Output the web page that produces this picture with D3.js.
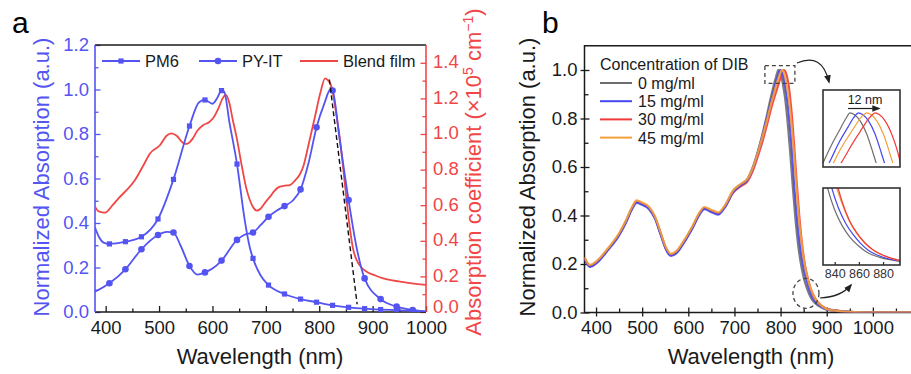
<!DOCTYPE html>
<html>
<head>
<meta charset="utf-8">
<script src="https://cdn.jsdelivr.net/npm/d3@7"></script>
<style>
  html, body { margin: 0; padding: 0; background: #fff; }
  svg { font-family: "Liberation Sans", Arial, Helvetica, sans-serif; display: block; }
</style>
</head>
<body>
<svg id="chart" width="911" height="374"></svg>
<script>
// ---------------- Panel a: PM6, PY-IT and blend film ----------------
// wavelengths (nm) where PM6 / PY-IT carry symbols
const markerWl = [407, 437, 467, 498, 527, 557, 586, 617, 646, 676, 705, 735, 765, 795, 825, 855, 885, 915, 945, 975];
const pm6AtMarkers = [0.306, 0.316, 0.338, 0.418, 0.596, 0.836, 0.953, 0.995, 0.665, 0.241, 0.121, 0.081, 0.058, 0.044, 0.030, 0.021, 0.015, 0.011, 0.008, 0.005];
const pm6Between = [[380, 0.38], [388, 0.335], [396, 0.312], [575, 0.943], [600, 0.936], [609, 0.962], [622, 0.99], [632, 0.85], [660, 0.42], [670, 0.29], [690, 0.165], [1000, 0.003]];
const pyitAtMarkers = [0.129, 0.192, 0.282, 0.346, 0.357, 0.207, 0.178, 0.231, 0.324, 0.357, 0.428, 0.476, 0.551, 0.830, 0.995, 0.503, 0.151, 0.058, 0.024, 0.009];
const pyitBetween = [[380, 0.091], [515, 0.36], [540, 0.30], [572, 0.168], [600, 0.195], [660, 0.347], [690, 0.39], [720, 0.455], [750, 0.50], [780, 0.67], [810, 0.94], [821, 1.0], [838, 0.78], [870, 0.29], [1000, 0.002]];
// blend film absorption coefficient (x10^5 cm^-1)
const blendFilm = [[380, 0.592], [387, 0.565], [399, 0.558], [413, 0.60], [427, 0.648], [441, 0.69], [455, 0.742], [470, 0.82], [483, 0.891], [502, 0.938], [514, 0.99], [523, 1.004], [533, 0.99], [545, 0.95], [552, 0.944], [562, 0.97], [572, 1.02], [583, 1.051], [593, 1.065], [601, 1.088], [612, 1.15], [619, 1.20], [625, 1.219], [632, 1.17], [638, 1.08], [645, 0.985], [655, 0.82], [663, 0.70], [670, 0.629], [677, 0.585], [683, 0.569], [690, 0.58], [700, 0.62], [708, 0.648], [716, 0.68], [726, 0.704], [736, 0.71], [745, 0.713], [755, 0.74], [763, 0.77], [770, 0.816], [780, 0.94], [792, 1.097], [802, 1.23], [811, 1.313], [817, 1.30], [823, 1.266], [831, 1.13], [839, 0.966], [848, 0.72], [857, 0.479], [863, 0.36], [870, 0.292], [879, 0.25], [889, 0.226], [905, 0.205], [920, 0.189], [940, 0.176], [964, 0.165], [985, 0.157], [1000, 0.152]];
// tangent to the absorption edge (normalized units)
const edgeTangent = [[819, 1.045], [871, 0.035]];

const aXTicks = [400, 500, 600, 700, 800, 900, 1000];
const aYLeftTicks = [0, 0.2, 0.4, 0.6, 0.8, 1.0, 1.2];
const aYRightTicks = [0, 0.2, 0.4, 0.6, 0.8, 1.0, 1.2, 1.4];

// ---------------- Panel b: DIB concentration series ----------------
const dibLabels = ["0 mg/ml", "15 mg/ml", "30 mg/ml", "45 mg/ml"];
const dib0 = [[375, 0.225], [380, 0.205], [387, 0.191], [400, 0.205], [425, 0.258], [450, 0.322], [465, 0.375], [478, 0.43], [488, 0.457], [500, 0.448], [515, 0.43], [528, 0.39], [540, 0.325], [552, 0.262], [562, 0.237], [575, 0.25], [590, 0.29], [610, 0.355], [625, 0.41], [635, 0.43], [648, 0.42], [665, 0.408], [680, 0.44], [697, 0.50], [715, 0.53], [728, 0.55], [740, 0.60], [750, 0.66], [760, 0.73], [770, 0.81], [778, 0.88], [783, 0.92], [787, 0.95], [790, 0.97], [793, 0.99], [795, 1.0], [797, 0.997], [800, 0.985], [803, 0.963], [806, 0.93], [810, 0.88], [815, 0.79], [820, 0.68], [826, 0.53], [833, 0.37], [840, 0.25], [846, 0.18], [852, 0.13], [860, 0.085], [866, 0.06], [872, 0.044], [880, 0.03], [890, 0.02], [900, 0.012], [950, 0.003], [1000, 0.001], [1100, 0]];
const dib15 = [[375, 0.222], [380, 0.202], [387, 0.188], [400, 0.202], [425, 0.255], [450, 0.318], [465, 0.371], [478, 0.426], [488, 0.452], [500, 0.444], [515, 0.426], [528, 0.386], [540, 0.321], [552, 0.258], [562, 0.233], [575, 0.246], [590, 0.286], [610, 0.351], [625, 0.406], [635, 0.426], [648, 0.416], [665, 0.404], [680, 0.436], [697, 0.496], [715, 0.527], [728, 0.547], [740, 0.596], [750, 0.655], [760, 0.725], [770, 0.80], [780, 0.875], [786, 0.92], [790, 0.95], [794, 0.975], [797, 0.993], [799, 1.0], [801, 0.997], [804, 0.985], [807, 0.963], [810, 0.93], [814, 0.88], [819, 0.79], [824, 0.68], [829, 0.54], [836, 0.38], [843, 0.26], [849, 0.19], [855, 0.14], [862, 0.095], [868, 0.066], [874, 0.048], [882, 0.032], [890, 0.022], [900, 0.013], [950, 0.003], [1000, 0.001], [1100, 0]];
const dib30 = [[375, 0.226], [380, 0.206], [387, 0.192], [400, 0.206], [425, 0.259], [450, 0.323], [465, 0.376], [478, 0.431], [488, 0.458], [500, 0.449], [515, 0.431], [528, 0.391], [540, 0.326], [552, 0.263], [562, 0.238], [575, 0.251], [590, 0.291], [610, 0.356], [625, 0.411], [635, 0.431], [648, 0.421], [665, 0.409], [680, 0.438], [697, 0.494], [715, 0.522], [728, 0.54], [740, 0.585], [750, 0.64], [760, 0.70], [770, 0.77], [780, 0.845], [787, 0.89], [792, 0.92], [796, 0.945], [800, 0.968], [803, 0.985], [805, 0.994], [807, 1.0], [809, 0.997], [812, 0.985], [815, 0.963], [818, 0.93], [821, 0.88], [825, 0.80], [829, 0.70], [834, 0.56], [840, 0.41], [846, 0.29], [852, 0.205], [858, 0.148], [865, 0.10], [871, 0.072], [877, 0.052], [884, 0.036], [892, 0.024], [900, 0.015], [950, 0.003], [1000, 0.001], [1100, 0]];
const dib45 = [[375, 0.229], [380, 0.209], [387, 0.196], [400, 0.21], [425, 0.263], [450, 0.327], [465, 0.38], [478, 0.435], [488, 0.462], [500, 0.453], [515, 0.435], [528, 0.395], [540, 0.33], [552, 0.267], [562, 0.242], [575, 0.255], [590, 0.295], [610, 0.36], [625, 0.415], [635, 0.435], [648, 0.425], [665, 0.413], [680, 0.444], [697, 0.503], [715, 0.532], [728, 0.551], [740, 0.598], [750, 0.655], [760, 0.72], [770, 0.79], [780, 0.865], [786, 0.905], [791, 0.94], [795, 0.963], [798, 0.98], [801, 0.995], [803, 1.0], [805, 0.997], [808, 0.985], [811, 0.963], [814, 0.93], [818, 0.88], [823, 0.79], [828, 0.68], [833, 0.55], [839, 0.40], [846, 0.28], [852, 0.20], [858, 0.145], [865, 0.10], [871, 0.071], [877, 0.051], [884, 0.035], [892, 0.023], [900, 0.014], [950, 0.003], [1000, 0.001], [1100, 0]];

const bXTicks = [400, 500, 600, 700, 800, 900, 1000];
const bYTicks = [0, 0.2, 0.4, 0.6, 0.8, 1.0];
const insetTicks = [840, 860, 880];

// ---------------- drawing ----------------
const BLUE = "#5454f2", RED = "#f04646", INK = "#1a1a1a";
const dibColors = ["#6e6e6e", "#4646f0", "#f23a3a", "#f2a03c"];

const svg = d3.select("#chart");
const defs = svg.append("defs");

function clip(id, x, y, w, h) {
  defs.append("clipPath").attr("id", id).append("rect")
    .attr("x", x).attr("y", y).attr("width", w).attr("height", h);
  return `url(#${id})`;
}

function styleAxis(g, color, fontSize) {
  g.select(".domain").remove();
  g.selectAll("line").attr("stroke", color).attr("stroke-width", 1.3);
  g.selectAll("text").attr("fill", color).style("font-size", fontSize + "px")
    .style("font-family", '"Liberation Sans", Arial, sans-serif');
}

function minorValues(lo, hi, step) {
  const out = [];
  for (let v = lo; v <= hi + 1e-9; v += step) out.push(+v.toFixed(4));
  return out;
}

// ===== panel a =====
const aX = d3.scaleLinear().domain([380, 1000]).range([95, 426]);
const aYL = d3.scaleLinear().domain([0, 1.2]).range([312, 45]);
const aYR = d3.scaleLinear().domain([0, 1.5]).range([312, 45]);
const ga = svg.append("g");

// axes
ga.append("g").attr("transform", "translate(0,312)")
  .call(d3.axisBottom(aX).tickValues(aXTicks).tickSize(-6).tickSizeOuter(0).tickPadding(9).tickFormat(d3.format("d")))
  .call(g => styleAxis(g, INK, 18.5));
ga.append("g").attr("transform", "translate(0,312)")
  .call(d3.axisBottom(aX).tickValues(minorValues(450, 950, 100)).tickSize(-3.5).tickFormat(""))
  .call(g => styleAxis(g, INK, 18.5));
ga.append("g").attr("transform", "translate(95,0)")
  .call(d3.axisLeft(aYL).tickValues(aYLeftTicks).tickSize(-5.5).tickSizeOuter(0).tickPadding(6).tickFormat(d3.format(".1f")))
  .call(g => styleAxis(g, BLUE, 18.5));
ga.append("g").attr("transform", "translate(95,0)")
  .call(d3.axisLeft(aYL).tickValues(minorValues(0.1, 1.1, 0.2)).tickSize(-3.5).tickFormat(""))
  .call(g => styleAxis(g, BLUE, 18.5));
ga.append("g").attr("transform", "translate(426,0)")
  .call(d3.axisRight(aYR).tickValues(aYRightTicks).tickSize(-5.5).tickSizeOuter(0).tickPadding(7).tickFormat(d3.format(".1f")))
  .call(g => styleAxis(g, RED, 18.5))
  .call(g => g.selectAll(".tick text").attr("y", d => (d === 0 ? -5 : -1)));
ga.append("g").attr("transform", "translate(426,0)")
  .call(d3.axisRight(aYR).tickValues(minorValues(0.1, 1.3, 0.2)).tickSize(-3.5).tickFormat(""))
  .call(g => styleAxis(g, RED, 18.5));

// frame
ga.append("line").attr("x1", 95).attr("x2", 426).attr("y1", 45).attr("y2", 45).attr("stroke", INK).attr("stroke-width", 1.5);
ga.append("line").attr("x1", 95).attr("x2", 426).attr("y1", 312).attr("y2", 312).attr("stroke", INK).attr("stroke-width", 1.5);
ga.append("line").attr("x1", 95).attr("x2", 95).attr("y1", 45).attr("y2", 312).attr("stroke", BLUE).attr("stroke-width", 1.6);
ga.append("line").attr("x1", 426).attr("x2", 426).attr("y1", 45).attr("y2", 312).attr("stroke", RED).attr("stroke-width", 1.6);

const clipA = clip("clipA", 95, 45, 331, 267);
const plotA = ga.append("g").attr("clip-path", clipA);

const lineL = d3.line().x(d => aX(d[0])).y(d => aYL(d[1])).curve(d3.curveMonotoneX);
const lineR = d3.line().x(d => aX(d[0])).y(d => aYR(d[1])).curve(d3.curveMonotoneX);

const pm6Markers = markerWl.map((w, i) => [w, pm6AtMarkers[i]]);
const pyitMarkers = markerWl.map((w, i) => [w, pyitAtMarkers[i]]);
const pm6 = d3.sort(pm6Markers.concat(pm6Between), d => d[0]);
const pyit = d3.sort(pyitMarkers.concat(pyitBetween), d => d[0]);

plotA.append("path").datum(blendFilm).attr("d", lineR)
  .attr("fill", "none").attr("stroke", RED).attr("stroke-width", 1.8);
plotA.append("path").datum(pm6).attr("d", lineL)
  .attr("fill", "none").attr("stroke", BLUE).attr("stroke-width", 1.8);
plotA.append("path").datum(pyit).attr("d", lineL)
  .attr("fill", "none").attr("stroke", BLUE).attr("stroke-width", 1.8);
plotA.selectAll("rect.pm6").data(pm6Markers).join("rect").attr("class", "pm6")
  .attr("x", d => aX(d[0]) - 2.6).attr("y", d => aYL(d[1]) - 2.6)
  .attr("width", 5.2).attr("height", 5.2).attr("fill", BLUE);
plotA.selectAll("circle.pyit").data(pyitMarkers).join("circle").attr("class", "pyit")
  .attr("cx", d => aX(d[0])).attr("cy", d => aYL(d[1])).attr("r", 3.3).attr("fill", BLUE);
plotA.append("path").datum(edgeTangent).attr("d", d3.line().x(d => aX(d[0])).y(d => aYL(d[1])))
  .attr("fill", "none").attr("stroke", "#111").attr("stroke-width", 1.4).attr("stroke-dasharray", "5,3");

// legend a
const legA = ga.append("g").style("font-size", "16.5px");
[
  { x: 102, label: "PM6", kind: "square", color: BLUE },
  { x: 199, label: "PY-IT", kind: "circle", color: BLUE },
  { x: 300, label: "Blend film", kind: "none", color: RED }
].forEach(it => {
  const y = 61;
  legA.append("line").attr("x1", it.x).attr("x2", it.x + 38).attr("y1", y).attr("y2", y)
    .attr("stroke", it.color).attr("stroke-width", 1.8);
  if (it.kind === "square") legA.append("rect").attr("x", it.x + 19 - 2.6).attr("y", y - 2.6).attr("width", 5.2).attr("height", 5.2).attr("fill", it.color);
  if (it.kind === "circle") legA.append("circle").attr("cx", it.x + 19).attr("cy", y).attr("r", 3.3).attr("fill", it.color);
  legA.append("text").attr("x", it.x + 43).attr("y", y + 6).attr("fill", INK).text(it.label);
});

// titles a
ga.append("text").attr("x", 12).attr("y", 33).style("font-size", "30px").attr("fill", "#000").text("a");
ga.append("text").attr("transform", "translate(49,177) rotate(-90)").attr("text-anchor", "middle")
  .style("font-size", "22px").attr("fill", BLUE).text("Normalized Absorption (a.u.)");
const rt = ga.append("text").attr("transform", "translate(481,172) rotate(-90)").attr("text-anchor", "middle")
  .style("font-size", "22px").attr("fill", RED);
rt.append("tspan").text("Absorption coefficient (\u00d710");
rt.append("tspan").attr("dy", -8).style("font-size", "14px").text("5");
rt.append("tspan").attr("dy", 8).text(" cm");
rt.append("tspan").attr("dy", -8).style("font-size", "14px").text("\u22121");
rt.append("tspan").attr("dy", 8).text(")");
ga.append("text").attr("x", 260).attr("y", 364).attr("text-anchor", "middle")
  .style("font-size", "22px").attr("fill", INK).text("Wavelength (nm)");

// ===== panel b =====
const bX = d3.scaleLinear().domain([375, 1100]).range([584.5, 919]);
const bY = d3.scaleLinear().domain([0, 1.1]).range([312.5, 45.75]);
const gb = svg.append("g");

gb.append("g").attr("transform", "translate(0,312.5)")
  .call(d3.axisBottom(bX).tickValues(bXTicks).tickSize(4).tickSizeOuter(0).tickPadding(4).tickFormat(d3.format("d")))
  .call(g => styleAxis(g, INK, 18.5));
gb.append("g").attr("transform", "translate(0,312.5)")
  .call(d3.axisBottom(bX).tickValues(bXTicks).tickSize(-5).tickFormat(""))
  .call(g => styleAxis(g, INK, 18.5));
gb.append("g").attr("transform", "translate(0,312.5)")
  .call(d3.axisBottom(bX).tickValues(minorValues(450, 1050, 100)).tickSize(-4).tickFormat(""))
  .call(g => styleAxis(g, INK, 18.5));
gb.append("g").attr("transform", "translate(584.5,0)")
  .call(d3.axisLeft(bY).tickValues(bYTicks).tickSize(4).tickSizeOuter(0).tickPadding(3).tickFormat(d3.format(".1f")))
  .call(g => styleAxis(g, INK, 18.5));
gb.append("g").attr("transform", "translate(584.5,0)")
  .call(d3.axisLeft(bY).tickValues(bYTicks).tickSize(-5).tickFormat(""))
  .call(g => styleAxis(g, INK, 18.5));
gb.append("g").attr("transform", "translate(584.5,0)")
  .call(d3.axisLeft(bY).tickValues(minorValues(0.1, 0.9, 0.2)).tickSize(-4).tickFormat(""))
  .call(g => styleAxis(g, INK, 18.5));

gb.append("rect").attr("x", 584.5).attr("y", 45.75).attr("width", 334.5).attr("height", 266.75)
  .attr("fill", "none").attr("stroke", INK).attr("stroke-width", 1.5);

const clipB = clip("clipB", 584.5, 45.75, 334.5, 266.75);
const plotB = gb.append("g").attr("clip-path", clipB);
const lineB = d3.line().x(d => bX(d[0])).y(d => bY(d[1])).curve(d3.curveMonotoneX);
const dibSeries = [dib0, dib15, dib30, dib45];
const drawOrder = [0, 2, 1, 3];
drawOrder.forEach(i => {
  plotB.append("path").datum(dibSeries[i]).attr("d", lineB)
    .attr("fill", "none").attr("stroke", dibColors[i]).attr("stroke-width", 2.2).attr("stroke-opacity", 0.9);
});

// legend b
const legB = gb.append("g").style("font-size", "16px");
legB.append("text").attr("x", 600).attr("y", 70).attr("fill", INK).text("Concentration of DIB");
dibLabels.forEach((lab, i) => {
  const y = 83 + i * 18.2;
  legB.append("line").attr("x1", 600).attr("x2", 632).attr("y1", y).attr("y2", y)
    .attr("stroke", dibColors[i]).attr("stroke-width", 2);
  legB.append("text").attr("x", 638).attr("y", y + 6).attr("fill", INK).text(lab);
});

// marked regions
const annot = "#444";
gb.append("rect").attr("x", bX(766)).attr("y", bY(1.018)).attr("width", bX(831) - bX(766)).attr("height", bY(0.945) - bY(1.018))
  .attr("fill", "none").attr("stroke", annot).attr("stroke-width", 1.3).attr("stroke-dasharray", "4,3");
gb.append("ellipse").attr("cx", bX(855)).attr("cy", bY(0.079)).attr("rx", 13).attr("ry", 15)
  .attr("fill", "none").attr("stroke", annot).attr("stroke-width", 1.3).attr("stroke-dasharray", "4,3");

defs.append("marker").attr("id", "head").attr("viewBox", "0 0 10 10").attr("refX", 8).attr("refY", 5)
  .attr("markerWidth", 7).attr("markerHeight", 7).attr("orient", "auto-start-reverse")
  .append("path").attr("d", "M0,1 L10,5 L0,9 Z").attr("fill", "#222");
gb.append("path").attr("d", "M797,63 Q822,52 829,82").attr("fill", "none").attr("stroke", "#222")
  .attr("stroke-width", 1.2).attr("marker-end", "url(#head)");
gb.append("path").attr("d", "M820,298 Q841,297 851,285").attr("fill", "none").attr("stroke", "#222")
  .attr("stroke-width", 1.2).attr("marker-end", "url(#head)");

// inset 1: peak shift
const in1 = { x: 823, y: 90, w: 77, h: 77 };
const i1X = d3.scaleLinear().domain([782, 819]).range([in1.x, in1.x + in1.w]);
const i1Y = d3.scaleLinear().domain([0.905, 1.04]).range([in1.y + in1.h, in1.y]);
gb.append("rect").attr("x", in1.x).attr("y", in1.y).attr("width", in1.w).attr("height", in1.h).attr("fill", "#fff");
const clipI1 = clip("clipI1", in1.x, in1.y, in1.w, in1.h - 4);
const i1 = gb.append("g").attr("clip-path", clipI1);
const lineI1 = d3.line().x(d => i1X(d[0])).y(d => i1Y(d[1])).curve(d3.curveMonotoneX);
[0, 1, 3, 2].forEach(i => {
  i1.append("path").datum(dibSeries[i]).attr("d", lineI1)
    .attr("fill", "none").attr("stroke", dibColors[i]).attr("stroke-width", 1.2);
});
gb.append("rect").attr("x", in1.x).attr("y", in1.y).attr("width", in1.w).attr("height", in1.h)
  .attr("fill", "none").attr("stroke", "#333").attr("stroke-width", 1.6);
gb.append("line").attr("x1", i1X(795) - 2).attr("x2", i1X(807) + 4).attr("y1", 108.5).attr("y2", 108.5)
  .attr("stroke", "#222").attr("stroke-width", 1.2).attr("marker-end", "url(#head)");
gb.append("text").attr("x", 865).attr("y", 104).attr("text-anchor", "middle").style("font-size", "12.5px")
  .attr("fill", INK).text("12 nm");

// inset 2: absorption edge
const in2 = { x: 823, y: 188, w: 77, h: 77 };
const i2X = d3.scaleLinear().domain([830.3, 894]).range([in2.x, in2.x + in2.w]);
const i2Y = d3.scaleLinear().domain([0, 0.35]).range([in2.y + in2.h, in2.y]);
gb.append("rect").attr("x", in2.x).attr("y", in2.y).attr("width", in2.w).attr("height", in2.h).attr("fill", "#fff");
const clipI2 = clip("clipI2", in2.x, in2.y, in2.w, in2.h);
const i2 = gb.append("g").attr("clip-path", clipI2);
const lineI2 = d3.line().x(d => i2X(d[0])).y(d => i2Y(d[1])).curve(d3.curveMonotoneX);
[0, 1, 3, 2].forEach(i => {
  i2.append("path").datum(dibSeries[i]).attr("d", lineI2)
    .attr("fill", "none").attr("stroke", dibColors[i]).attr("stroke-width", 1.2);
});
gb.append("g").attr("transform", `translate(0,${in2.y + in2.h})`)
  .call(d3.axisBottom(i2X).tickValues(insetTicks).tickSize(-3).tickPadding(4).tickFormat(d3.format("d")))
  .call(g => styleAxis(g, "#333", 12.5));
gb.append("rect").attr("x", in2.x).attr("y", in2.y).attr("width", in2.w).attr("height", in2.h)
  .attr("fill", "none").attr("stroke", "#333").attr("stroke-width", 1.6);

// titles b
gb.append("text").attr("x", 542).attr("y", 33).style("font-size", "30px").attr("fill", "#000").text("b");
gb.append("text").attr("transform", "translate(535,177) rotate(-90)").attr("text-anchor", "middle")
  .style("font-size", "22px").attr("fill", INK).text("Normalized Absorption (a.u.)");
gb.append("text").attr("x", 751).attr("y", 364).attr("text-anchor", "middle")
  .style("font-size", "22px").attr("fill", INK).text("Wavelength (nm)");
</script>
</body>
</html>
